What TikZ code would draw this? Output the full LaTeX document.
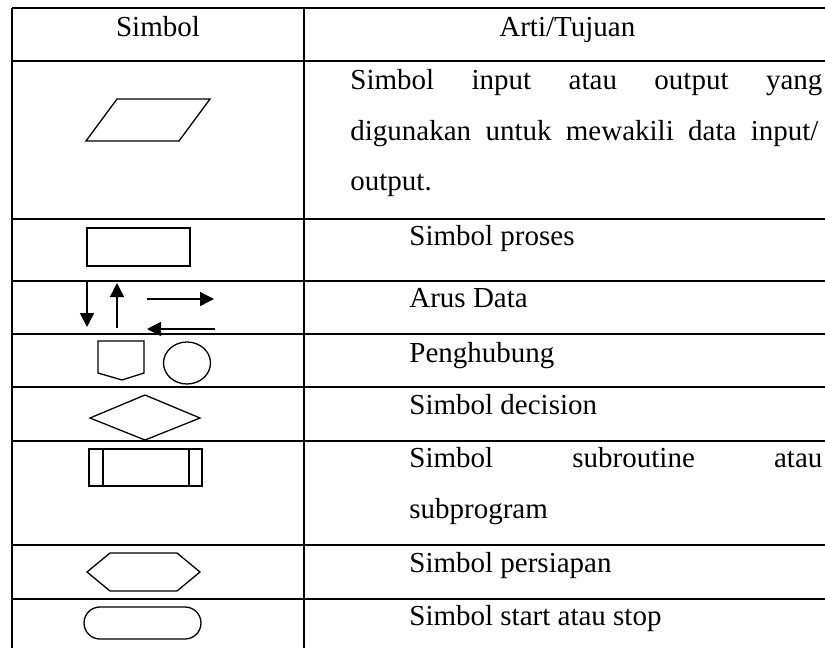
\documentclass[tikz,border=0pt]{standalone}
\usepackage{fontspec}
\setmainfont{Liberation Serif}
\usetikzlibrary{arrows.meta}
\begin{document}
\begin{tikzpicture}[x=0.5pt,y=-0.5pt,
  thick rule/.style={line width=1pt},
  thin rule/.style={line width=0.55pt},
  vrule/.style={line width=0.65pt},
  sym/.style={line width=0.65pt, line join=miter},
  flow/.style={line width=0.7pt, -{Triangle[length=7pt,width=7pt]}},
  txt/.style={anchor=base west, inner sep=0pt, font=\fontsize{14.5pt}{17pt}\selectfont},
  txtc/.style={anchor=base, inner sep=0pt, font=\fontsize{14.5pt}{17pt}\selectfont}]
\useasboundingbox (0,0) rectangle (825,648);
% table rules
\draw[thin rule] (12,8) -- (825,8);
\draw[thick rule] (12,61) -- (825,61);
\draw[thick rule] (12,219) -- (825,219);
\draw[thick rule] (12,281) -- (825,281);
\draw[thin rule] (12,334) -- (825,334);
\draw[thick rule] (12,387) -- (825,387);
\draw[thick rule] (12,441) -- (825,441);
\draw[thin rule] (12,545) -- (825,545);
\draw[thick rule] (12,599) -- (825,599);
\draw[vrule] (12,8) -- (12,648);
\draw[vrule] (304,8) -- (304,648);
% header
\node[txtc] (h1) at (158,36) {Simbol};
\node[txt] (h2) at (499,36) {Arti/Tujuan};
% row 1
\node[txt] (t1a) at (350,90) {\makebox[236pt][s]{Simbol input atau output yang}};
\node[txt] (t1b) at (350,140) {\makebox[234pt][s]{digunakan untuk mewakili data input/}};
\node[txt] (t1c) at (350,190) {output.};
\draw[sym] (86,141) -- (179,141) -- (210,99) -- (117,99) -- cycle;
% row 2
\node[txt] (t2) at (409,245) {Simbol proses};
\draw[sym] (87,228) rectangle (190,266);
% row 3
\node[txt] (t3) at (409,307) {Arus Data};
\coordinate (d1) at (87,281); \coordinate (d2) at (87,327);
\coordinate (u1) at (117,328); \coordinate (u2) at (117,283);
\coordinate (r1) at (147,299); \coordinate (r2) at (214,299);
\coordinate (l1) at (215,329); \coordinate (l2) at (147,329);
\draw[flow] (d1) -- (d2);
\draw[flow] (u1) -- (u2);
\draw[flow] (r1) -- (r2);
\draw[flow] (l1) -- (l2);
% row 4
\node[txt] (t4) at (409,362) {Penghubung};
\draw[sym] (98,341) -- (144,341) -- (144,373) -- (122,380) -- (98,373) -- cycle;
\draw[sym] (187,363) ellipse [x radius=23.5, y radius=21];
% row 5
\node[txt] (t5) at (409,414) {Simbol decision};
\draw[sym] (90,418) -- (145,395) -- (200,418) -- (145,440) -- cycle;
% row 6
\node[txt] (t6a) at (409,467) {\makebox[206.5pt][s]{Simbol subroutine atau}};
\node[txt] (t6b) at (409,518) {subprogram};
\draw[sym] (89,449) rectangle (202,486);
\draw[sym] (103,449) -- (103,486);
\draw[sym] (189,449) -- (189,486);
% row 7
\node[txt] (t7) at (409,572) {Simbol persiapan};
\draw[sym] (87,572) -- (110,553) -- (177,553) -- (200,572) -- (177,591) -- (110,591) -- cycle;
% row 8
\node[txt] (t8) at (409,625) {Simbol start atau stop};
\draw[sym, rounded corners=8pt] (84,607) rectangle (201,639);
\end{tikzpicture}
\end{document}
